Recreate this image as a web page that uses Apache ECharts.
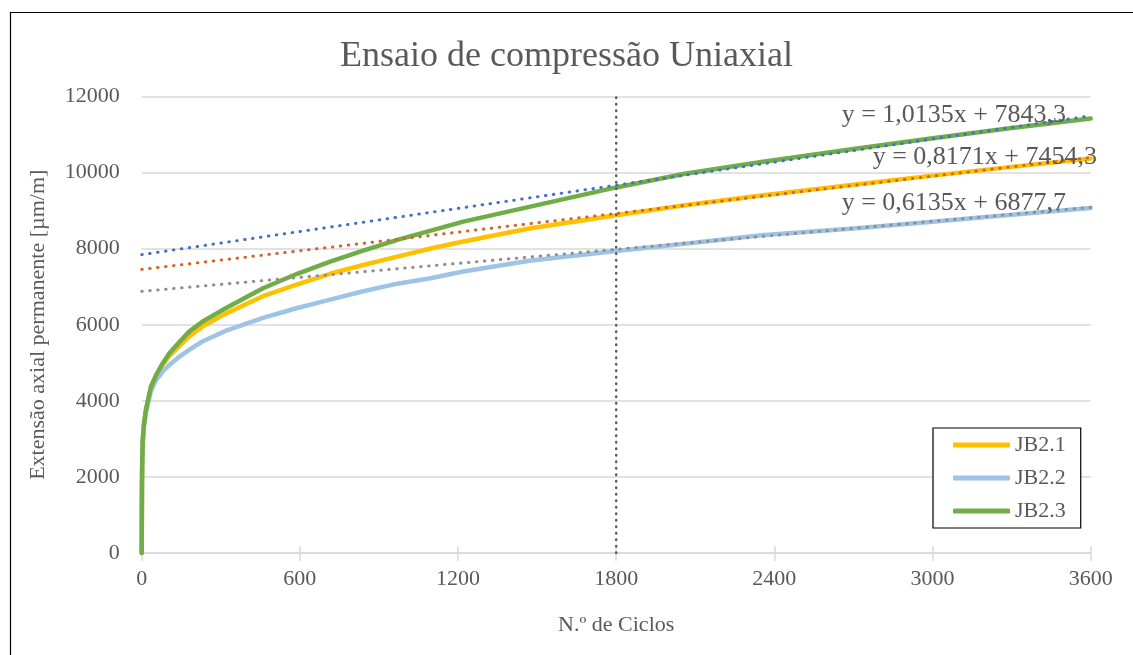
<!DOCTYPE html>
<html>
<head>
<meta charset="utf-8">
<script src="https://cdn.jsdelivr.net/npm/echarts@6/dist/echarts.min.js"></script>
<style>
  html, body { margin: 0; padding: 0; background: #fff; }
  #chart { width: 1133px; height: 655px; }
</style>
</head>
<body>
<div id="chart"></div>
<script>
// Number of load cycles (shared x values of the three specimens)
const cycles = [0, 1, 2, 4, 8, 16, 35, 55, 80, 105, 145, 180, 230, 315, 460, 590, 715, 840, 970, 1100, 1220, 1470, 1800, 2060, 2350, 2700, 3000, 3300, 3600];

// Permanent axial strain [µm/m] of each specimen
const jb21 = [0, 1800, 2400, 2950, 3350, 3750, 4360, 4660, 4950, 5180, 5460, 5690, 5950, 6280, 6750, 7060, 7340, 7570, 7790, 8010, 8190, 8530, 8880, 9140, 9400, 9680, 9920, 10150, 10370];
const jb22 = [0, 1700, 2300, 2900, 3300, 3700, 4250, 4550, 4770, 4945, 5170, 5340, 5560, 5830, 6180, 6440, 6660, 6880, 7080, 7230, 7400, 7680, 7940, 8130, 8350, 8530, 8710, 8890, 9070];
const jb23 = [0, 1800, 2400, 2950, 3350, 3760, 4370, 4680, 4990, 5250, 5560, 5820, 6080, 6420, 6960, 7340, 7660, 7950, 8230, 8480, 8710, 9100, 9610, 9970, 10280, 10620, 10900, 11170, 11420];

const seriesNames = ['JB2.1', 'JB2.2', 'JB2.3'];
const seriesColors = ['#FFC000', '#9DC3E6', '#70AD47'];

// Linear trend lines y = a·x + b
const trendSlopes = [0.8171, 0.6135, 1.0135];
const trendIntercepts = [7454.3, 6877.7, 7843.3];
const trendColors = ['#CF672D', '#8F8F8F', '#4472C4'];
const trendLabels = ['y = 0,8171x + 7454,3', 'y = 0,6135x + 6877,7', 'y = 1,0135x + 7843,3'];

const xMin = 0, xMax = 3600, xStep = 600;
const yMin = 0, yMax = 12000, yStep = 2000;
const markerCycle = 1800;

const font = 'Liberation Serif';
const textColor = '#595959';

const pairs = (vals) => cycles.map((c, i) => [c, vals[i]]);
const curves = [jb21, jb22, jb23];

const series = [];
curves.forEach((vals, i) => {
  series.push({
    name: seriesNames[i],
    type: 'line',
    data: pairs(vals),
    showSymbol: false,
    smooth: false,
    lineStyle: { color: seriesColors[i], width: 4.5, cap: 'round', join: 'round' },
    itemStyle: { color: seriesColors[i] },
    z: 2
  });
});
trendSlopes.forEach((a, i) => {
  const b = trendIntercepts[i];
  series.push({
    name: 'trend ' + seriesNames[i],
    type: 'line',
    data: [[xMin, a * xMin + b], [xMax, a * xMax + b]],
    showSymbol: false,
    silent: true,
    lineStyle: { color: trendColors[i], width: 3, type: [0.5, 7.5], cap: 'round' },
    z: 3
  });
});
series.push({
  name: 'marker',
  type: 'line',
  data: [[markerCycle, yMin], [markerCycle, yMax]],
  showSymbol: false,
  silent: true,
  lineStyle: { color: '#595959', width: 2.4, type: [0.5, 6], cap: 'round' },
  z: 4
});

const plain = (v) => String(v);

const chart = echarts.init(document.getElementById('chart'), null, { renderer: 'canvas' });
chart.setOption({
  backgroundColor: '#ffffff',
  animation: false,
  title: {
    text: 'Ensaio de compressão Uniaxial',
    left: 'center',
    top: 34,
    textStyle: { fontFamily: font, fontSize: 36, fontWeight: 'normal', color: textColor }
  },
  grid: { left: 141.7, right: 42.3, top: 96.5, bottom: 102 },
  legend: {
    data: seriesNames,
    orient: 'vertical',
    left: 933,
    top: 428,
    padding: [6, 15, 6, 20],
    itemGap: 11,
    itemWidth: 57,
    itemHeight: 5,
    icon: 'roundRect',
    borderColor: '#000',
    borderWidth: 1.2,
    backgroundColor: '#fff',
    textStyle: { fontFamily: font, fontSize: 22, color: textColor, lineHeight: 22 }
  },
  xAxis: [{
    type: 'value',
    min: xMin, max: xMax, interval: xStep,
    name: 'N.º de Ciclos',
    nameLocation: 'middle',
    nameGap: 61,
    nameTextStyle: { fontFamily: font, fontSize: 22, color: textColor },
    axisLine: { show: true, lineStyle: { color: '#D9D9D9', width: 1.5 } },
    axisTick: { show: true, length: 8, lineStyle: { color: '#D9D9D9', width: 1.5 } },
    axisLabel: { fontFamily: font, fontSize: 22, color: textColor, margin: 15, formatter: plain },
    splitLine: { show: false }
  }, {
    type: 'value',
    position: 'bottom',
    min: xMin, max: xMax, interval: xStep,
    axisLine: { show: false },
    axisTick: { show: true, inside: true, length: 7, lineStyle: { color: '#D9D9D9', width: 1.5 } },
    axisLabel: { show: false },
    splitLine: { show: false }
  }],
  yAxis: {
    type: 'value',
    min: yMin, max: yMax, interval: yStep,
    name: 'Extensão axial permanente [µm/m]',
    nameLocation: 'middle',
    nameGap: 92,
    nameTextStyle: { fontFamily: font, fontSize: 22, color: textColor },
    axisLine: { show: false },
    axisTick: { show: false },
    axisLabel: { fontFamily: font, fontSize: 22, color: textColor, margin: 22, formatter: plain },
    splitLine: { lineStyle: { color: '#D9D9D9', width: 1.5 } }
  },
  series: series,
  graphic: [
    {
      type: 'rect', silent: true, z: 100,
      shape: { x: 10.5, y: 12.5, width: 1300, height: 800 },
      style: { fill: null, stroke: '#000', lineWidth: 1.2 }
    },
    {
      type: 'text', z: 100, silent: true,
      style: { x: 1066, y: 115, text: trendLabels[2], align: 'right', verticalAlign: 'middle',
               font: '26px "Liberation Serif"', fill: textColor }
    },
    {
      type: 'text', z: 100, silent: true,
      style: { x: 1097, y: 157, text: trendLabels[0], align: 'right', verticalAlign: 'middle',
               font: '26px "Liberation Serif"', fill: textColor }
    },
    {
      type: 'text', z: 100, silent: true,
      style: { x: 1066, y: 203, text: trendLabels[1], align: 'right', verticalAlign: 'middle',
               font: '26px "Liberation Serif"', fill: textColor }
    }
  ]
});
</script>
</body>
</html>
